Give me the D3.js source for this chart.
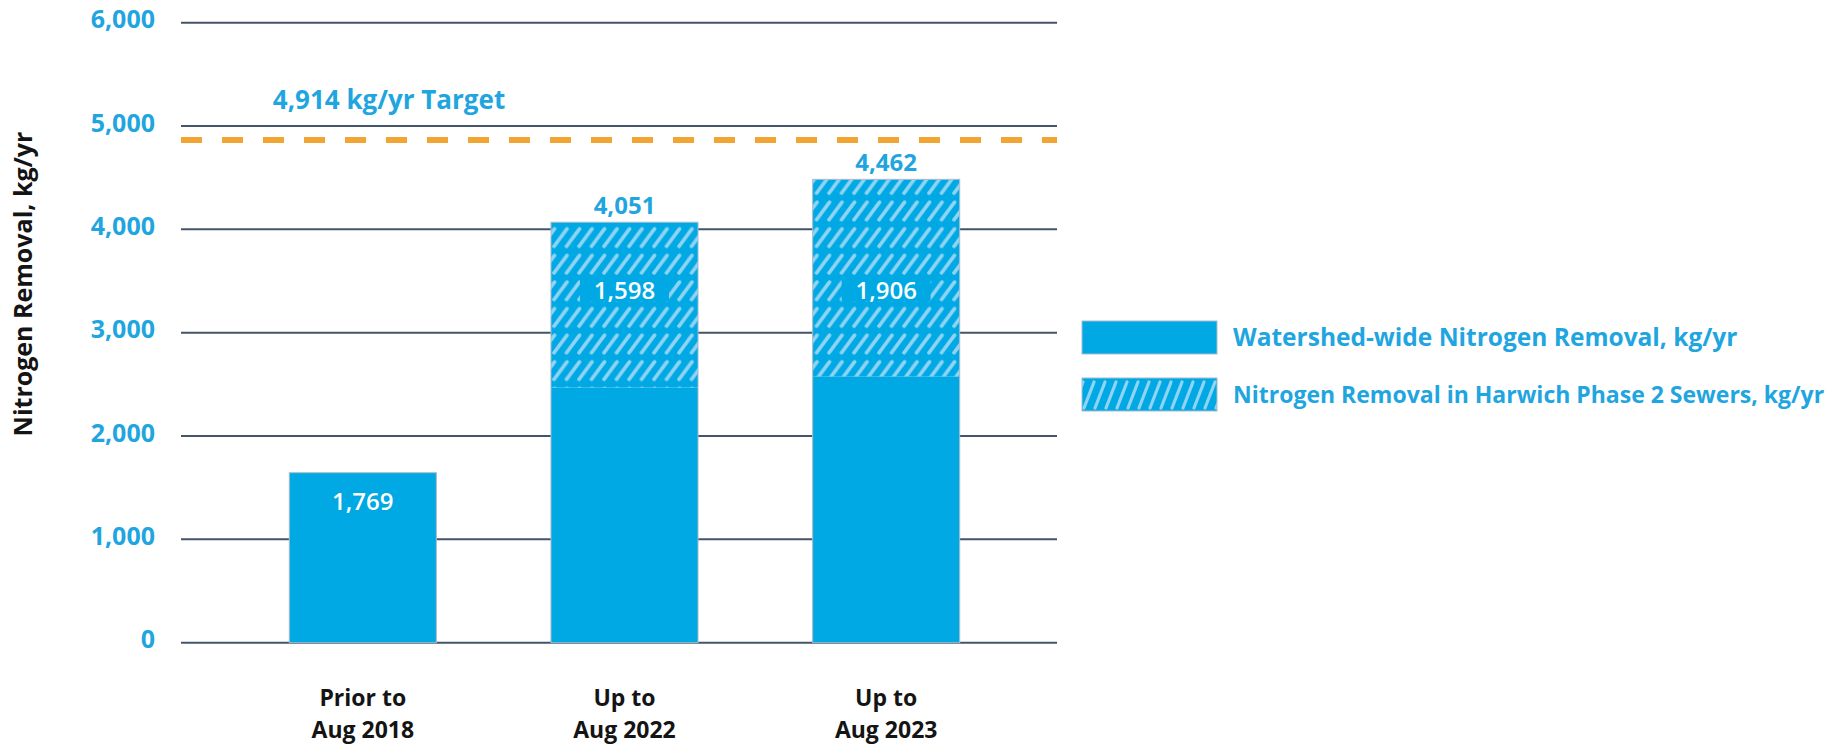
<!DOCTYPE html>
<html>
<head>
<meta charset="utf-8">
<script src="https://cdn.jsdelivr.net/npm/d3@7"></script>
<style>
  html, body { margin: 0; padding: 0; background: #ffffff; }
  svg { display: block; }
  text { font-family: 'Open Sans', 'DejaVu Sans', sans-serif; font-weight: 700; }
</style>
</head>
<body>
<svg id="chart" width="1837" height="745"></svg>
<script>
// ---- data ----
const categories = ["Prior to Aug 2018", "Up to Aug 2022", "Up to Aug 2023"];
const categoryLines = [["Prior to", "Aug 2018"], ["Up to", "Aug 2022"], ["Up to", "Aug 2023"]];
const totalValues = [1645, 4069, 4484];          // drawn bar heights, kg/yr
const totalLabels = ["1,769", "4,051", "4,462"];  // printed labels
const hatchedValues = [0, 1598, 1906];            // Harwich Phase 2 sewers portion
const hatchedLabels = ["", "1,598", "1,906"];
const targetValue = 4864;
const targetLabel = "4,914 kg/yr Target";
const yTicks = [0, 1000, 2000, 3000, 4000, 5000, 6000];
const seriesNames = ["Watershed-wide Nitrogen Removal, kg/yr",
                     "Nitrogen Removal in Harwich Phase 2 Sewers, kg/yr"];
const yTitle = "Nitrogen Removal, kg/yr";

// ---- styles ----
const BLUE = "#00a8e4";
const HATCH = "#8fd4f4";
const LABEL_BLUE = "#1fa5df";
const GRID = "#44546a";
const ORANGE = "#f2a532";

const svg = d3.select("#chart");

const x = d3.scaleBand().domain(categories).range([232, 1017])
  .paddingInner(0.438).paddingOuter(0.219);
const y = d3.scaleLinear().domain([0, 6000]).range([642.7, 22.7]);
const gridX0 = 181, gridX1 = 1057;

// pattern
const defs = svg.append("defs");
const pat = defs.append("pattern")
  .attr("id", "hatch")
  .attr("patternUnits", "userSpaceOnUse")
  .attr("width", 12.5).attr("height", 26.6)
  .attr("patternTransform", "translate(3,12)");
pat.append("rect").attr("width", 12.5).attr("height", 26.6).attr("fill", BLUE);
[-12.5, 0, 12.5].forEach(o => {
  pat.append("line")
    .attr("x1", o + 1).attr("y1", 21.5)
    .attr("x2", o + 14).attr("y2", 4)
    .attr("stroke", HATCH).attr("stroke-width", 3.6).attr("stroke-linecap", "round");
});

const legPat = defs.append("pattern")
  .attr("id", "hatchLegend")
  .attr("patternUnits", "userSpaceOnUse")
  .attr("width", 11).attr("height", 40)
  .attr("patternTransform", "translate(1083,378)");
legPat.append("rect").attr("width", 11).attr("height", 40).attr("fill", BLUE);
[-11, 0, 11].forEach(o => {
  legPat.append("line")
    .attr("x1", o + 1).attr("y1", 30)
    .attr("x2", o + 11).attr("y2", 4)
    .attr("stroke", HATCH).attr("stroke-width", 3.2).attr("stroke-linecap", "round");
});

// gridlines
const grid = svg.append("g");
grid.selectAll("line").data(yTicks).join("line")
  .attr("x1", gridX0).attr("x2", gridX1)
  .attr("y1", d => y(d)).attr("y2", d => y(d))
  .attr("stroke", GRID).attr("stroke-width", 2);

// y-axis tick labels
const yAxis = d3.axisLeft(y).tickValues(yTicks).tickFormat(d3.format(",")).tickSize(0).tickPadding(0);
const ya = svg.append("g").attr("transform", "translate(155,-3)").call(yAxis);
ya.select(".domain").remove();
ya.selectAll("text")
  .attr("fill", LABEL_BLUE)
  .style("font-family", "'Open Sans', 'DejaVu Sans', sans-serif")
  .style("font-weight", 700)
  .style("font-size", "25px");

// y title
svg.append("text")
  .attr("transform", "translate(32,284) rotate(-90)")
  .attr("text-anchor", "middle")
  .attr("fill", "#141414")
  .style("font-size", "25px")
  .text(yTitle);

// bars: solid base
const bars = svg.append("g");
const idx = d3.range(categories.length);
bars.selectAll("rect.base").data(idx).join("rect")
  .attr("class", "base")
  .attr("x", i => x(categories[i]))
  .attr("width", x.bandwidth())
  .attr("y", i => y(totalValues[i] - hatchedValues[i]))
  .attr("height", i => y(0) - y(totalValues[i] - hatchedValues[i]))
  .attr("fill", BLUE);

// hatched portion
bars.selectAll("rect.hatch").data(idx.filter(i => hatchedValues[i] > 0)).join("rect")
  .attr("class", "hatch")
  .attr("x", i => x(categories[i]))
  .attr("width", x.bandwidth())
  .attr("y", i => y(totalValues[i]))
  .attr("height", i => y(totalValues[i] - hatchedValues[i]) - y(totalValues[i]))
  .attr("fill", "url(#hatch)");

// thin outline of whole bar
bars.selectAll("rect.outline").data(idx).join("rect")
  .attr("class", "outline")
  .attr("x", i => x(categories[i]))
  .attr("width", x.bandwidth())
  .attr("y", i => y(totalValues[i]))
  .attr("height", i => y(0) - y(totalValues[i]))
  .attr("fill", "none")
  .attr("stroke", "#a9bccb").attr("stroke-width", 1);

// target line
svg.append("line")
  .attr("x1", gridX0).attr("x2", gridX1)
  .attr("y1", y(targetValue)).attr("y2", y(targetValue))
  .attr("stroke", ORANGE).attr("stroke-width", 6)
  .attr("stroke-dasharray", "21 20");

svg.append("text")
  .attr("x", 389).attr("y", 109)
  .attr("text-anchor", "middle")
  .attr("fill", LABEL_BLUE)
  .style("font-size", "26px")
  .text(targetLabel);

// value labels
const labels = svg.append("g");
idx.forEach(i => {
  const cx = x(categories[i]) + x.bandwidth() / 2;
  if (hatchedValues[i] > 0) {
    labels.append("text")
      .attr("x", cx).attr("y", y(totalValues[i]) - 8)
      .attr("text-anchor", "middle")
      .attr("fill", LABEL_BLUE)
      .style("font-size", "24px")
      .text(totalLabels[i]);
    const ly = y(3410);
    labels.append("rect")
      .attr("x", cx - 44.5).attr("y", ly - 11)
      .attr("width", 89).attr("height", 22)
      .attr("fill", BLUE);
    labels.append("text")
      .attr("x", cx).attr("y", ly + 8.5)
      .attr("text-anchor", "middle")
      .attr("fill", "#ffffff")
      .style("font-weight", 600)
      .style("font-size", "24px")
      .text(hatchedLabels[i]);
  } else {
    labels.append("text")
      .attr("x", cx).attr("y", y(totalValues[i]) + 37)
      .attr("text-anchor", "middle")
      .attr("fill", "#ffffff")
      .style("font-weight", 600)
      .style("font-size", "24px")
      .text(totalLabels[i]);
  }
});

// category labels
const cat = svg.append("g");
idx.forEach(i => {
  const cx = x(categories[i]) + x.bandwidth() / 2;
  const t = cat.append("text")
    .attr("text-anchor", "middle")
    .attr("fill", "#141414")
    .style("font-size", "23px");
  categoryLines[i].forEach((ln, k) => {
    t.append("tspan").attr("x", cx).attr("y", 706 + k * 32).text(ln);
  });
});

// legend
const leg = svg.append("g");
const legY = [321, 378];
const legFill = [BLUE, "url(#hatchLegend)"];
const legSize = ["24.5px", "23px"];
seriesNames.forEach((name, k) => {
  leg.append("rect")
    .attr("x", 1082).attr("y", legY[k])
    .attr("width", 135).attr("height", 33)
    .attr("fill", legFill[k])
    .attr("stroke", "#a9bccb").attr("stroke-width", 1);
  leg.append("text")
    .attr("x", 1233).attr("y", legY[k] + 25)
    .attr("fill", LABEL_BLUE)
    .style("font-size", legSize[k])
    .text(name);
});
</script>
</body>
</html>
